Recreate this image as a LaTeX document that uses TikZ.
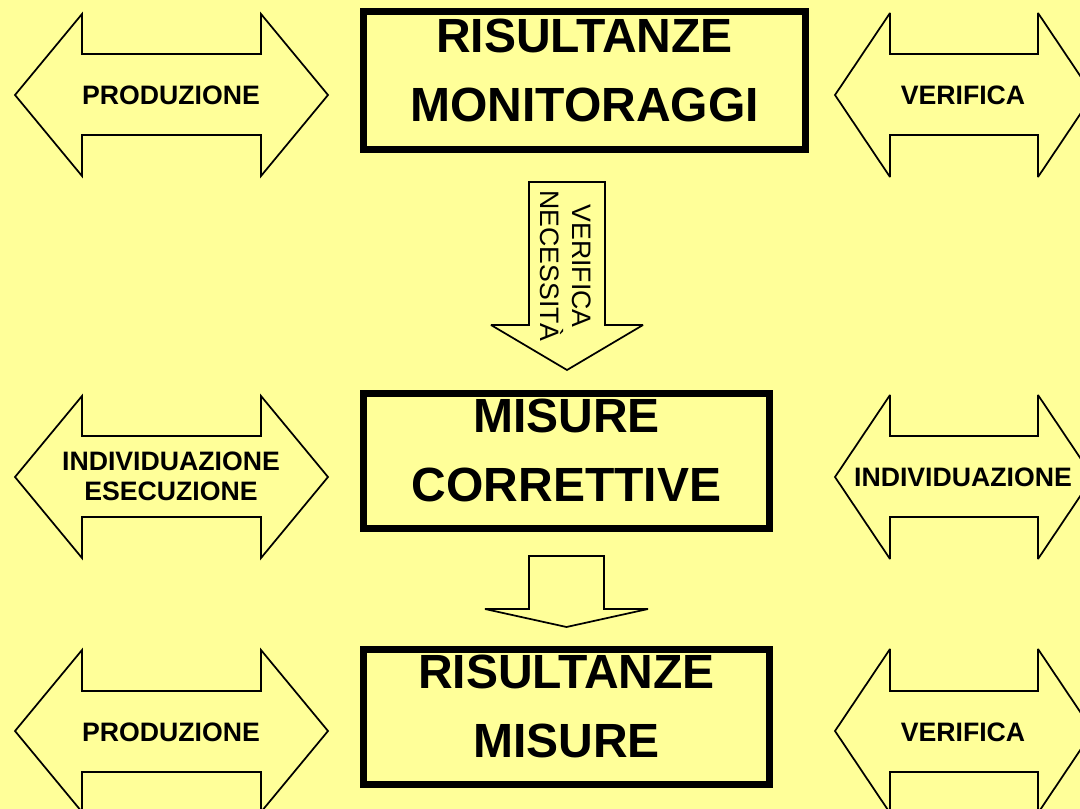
\documentclass[tikz,border=0pt]{standalone}
\usepackage{fontspec}
\setmainfont{Liberation Sans}
\definecolor{bgyellow}{RGB}{255,255,153}
\tikzset{every picture/.style={line width=0.75pt}}
\tikzset{
  blockarr/.style={draw, line width=1.3pt, fill=bgyellow, line join=miter, miter limit=3},
  resbox/.style={draw, line width=5.25pt},
  bigtxt/.style={align=center, inner sep=0pt, font=\fontsize{36}{51.75}\selectfont\bfseries},
  smalltxt/.style={align=center, inner sep=0pt, font=\fontsize{20}{22.5}\selectfont\bfseries},
  vertxt/.style={align=center, inner sep=0pt, rotate=-90, font=\fontsize{20}{24}\selectfont},
}

\begin{document}
\begin{tikzpicture}[x=0.75pt,y=0.75pt,yscale=-1,xscale=1]
%set diagram left start at 0, and has height of 809
\useasboundingbox (0,0) rectangle (1080,809);
\fill [bgyellow] (0,0) rectangle (1080,809);
\clip (0,0) rectangle (1080,809);

%Shape: Left-Right Arrow [top left]
\draw [blockarr] (15,95) -- (82,14) -- (82,54) -- (261,54) -- (261,14) -- (328,95) -- (261,176) -- (261,135) -- (82,135) -- (82,176) -- cycle ;
%Shape: Left-Right Arrow [top right]
\draw [blockarr] (835,95) -- (890,13) -- (890,54) -- (1038,54) -- (1038,13) -- (1093,95) -- (1038,177) -- (1038,135) -- (890,135) -- (890,177) -- cycle ;
%Shape: Left-Right Arrow [middle left]
\draw [blockarr] (15,477) -- (82,396) -- (82,436) -- (261,436) -- (261,396) -- (328,477) -- (261,558) -- (261,517) -- (82,517) -- (82,558) -- cycle ;
%Shape: Left-Right Arrow [middle right]
\draw [blockarr] (835,477) -- (890,395) -- (890,436) -- (1038,436) -- (1038,395) -- (1093,477) -- (1038,559) -- (1038,517) -- (890,517) -- (890,559) -- cycle ;
%Shape: Left-Right Arrow [bottom left]
\draw [blockarr] (15,731) -- (82,650) -- (82,691) -- (261,691) -- (261,650) -- (328,731) -- (261,812) -- (261,772) -- (82,772) -- (82,812) -- cycle ;
%Shape: Left-Right Arrow [bottom right]
\draw [blockarr] (835,731) -- (890,649) -- (890,691) -- (1038,691) -- (1038,649) -- (1093,731) -- (1038,813) -- (1038,772) -- (890,772) -- (890,813) -- cycle ;

%Shape: Down Arrow [upper]
\draw [blockarr] (529,182) -- (605,182) -- (605,325) -- (643,325) -- (567,370) -- (491,325) -- (529,325) -- cycle ;
%Shape: Down Arrow [lower]
\draw [blockarr] (529,556) -- (604,556) -- (604,609) -- (648,609) -- (566.5,627) -- (485,609) -- (529,609) -- cycle ;

%Shape: Rectangle [top]
\draw [resbox] (363.5,11.5) -- (805.5,11.5) -- (805.5,149.5) -- (363.5,149.5) -- cycle ;
%Shape: Rectangle [middle]
\draw [resbox] (363.5,393.5) -- (769.5,393.5) -- (769.5,528.5) -- (363.5,528.5) -- cycle ;
%Shape: Rectangle [bottom]
\draw [resbox] (363.5,649.5) -- (769.5,649.5) -- (769.5,784.5) -- (363.5,784.5) -- cycle ;

% Text Node
\draw (171,95) node (prodTop) [smalltxt] {PRODUZIONE};
% Text Node
\draw (963,95) node (verTop) [smalltxt] {VERIFICA};
% Text Node
\draw (584.5,70) node (monit) [bigtxt] {RISULTANZE\\MONITORAGGI};
% Text Node
\draw (566,266) node (necess) [vertxt] {VERIFICA\\NECESSITÀ};
% Text Node
\draw (171,476) node (indivEsec) [smalltxt] {INDIVIDUAZIONE\\ESECUZIONE};
% Text Node
\draw (566.5,450.5) node (corr) [bigtxt] {MISURE\\CORRETTIVE};
% Text Node
\draw (963,477) node (indiv) [smalltxt] {INDIVIDUAZIONE};
% Text Node
\draw (171,732) node (prodBot) [smalltxt] {PRODUZIONE};
% Text Node
\draw (566.5,706.7) node (misure) [bigtxt] {RISULTANZE\\MISURE};
% Text Node
\draw (963,732) node (verBot) [smalltxt] {VERIFICA};

\end{tikzpicture}
\end{document}
